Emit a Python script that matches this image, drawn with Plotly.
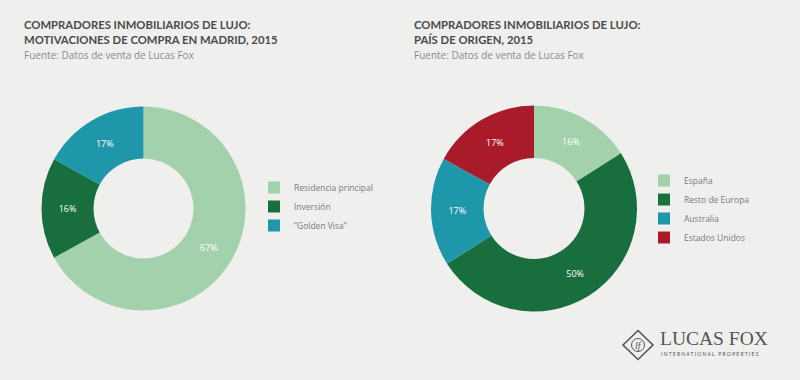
import plotly.graph_objects as go

W, H = 800, 380

# Data
left_labels = ["Residencia principal", "Inversión", "\u201cGolden Visa\u201d"]
left_values = [67, 16, 17]
right_labels = ["España", "Resto de Europa", "Australia", "Estados Unidos"]
right_values = [16, 50, 17, 17]

left_title = "COMPRADORES INMOBILIARIOS DE LUJO:<br>MOTIVACIONES DE COMPRA EN MADRID, 2015"
right_title = "COMPRADORES INMOBILIARIOS DE LUJO:<br>PAÍS DE ORIGEN, 2015"
source = "Fuente: Datos de venta de Lucas Fox"

LIGHT = "#a3d1ab"
DARK = "#186e3d"
TEAL = "#1f97aa"
RED = "#a91b2b"
BG = "#efefee"

FONT = "Lato, 'Open Sans', sans-serif"
FONT2 = "'Open Sans', Lato, sans-serif"


def px(x):
    return x / W


def py(y):
    return 1 - y / H


def domain(cx, cy, r):
    return dict(x=[px(cx - r), px(cx + r)], y=[py(cy + r), py(cy - r)])


fig = go.Figure()

fig.add_trace(go.Pie(
    labels=left_labels, values=left_values, sort=False, direction="clockwise",
    rotation=0, hole=0.49, domain=domain(143.5, 208.5, 102),
    marker=dict(colors=[LIGHT, DARK, TEAL], line=dict(width=0)),
    texttemplate="%{value}%", textposition="inside", insidetextorientation="horizontal",
    textfont=dict(color="white", size=9, family=FONT2),
    legend="legend", hoverinfo="label+percent",
))

fig.add_trace(go.Pie(
    labels=right_labels, values=right_values, sort=False, direction="clockwise",
    rotation=0, hole=0.49, domain=domain(534, 208.5, 103),
    marker=dict(colors=[LIGHT, DARK, TEAL, RED], line=dict(width=0)),
    texttemplate="%{value}%", textposition="inside", insidetextorientation="horizontal",
    textfont=dict(color="white", size=9, family=FONT2),
    legend="legend2", hoverinfo="label+percent",
))

legend_style = dict(
    font=dict(family=FONT2, size=8.5, color="#7a7a7a"),
    bgcolor="rgba(0,0,0,0)", itemclick=False, itemdoubleclick=False,
    xanchor="left", yanchor="top", tracegroupgap=0, itemwidth=30,
)

fig.update_layout(
    width=W, height=H,
    paper_bgcolor=BG, plot_bgcolor=BG,
    margin=dict(l=0, r=0, t=0, b=0),
    showlegend=True,
    legend=dict(x=px(254), y=py(173), **legend_style),
    legend2=dict(x=px(644), y=py(166), **legend_style),
    font=dict(family=FONT),
)

annotations = [
    dict(x=px(22), y=py(16), text="<b>" + left_title + "</b>", align="left",
         font=dict(size=11.3, color="#4a4a4a", family=FONT)),
    dict(x=px(22), y=py(46), text=source, align="left",
         font=dict(size=10, color="#8a8a8a", family=FONT2)),
    dict(x=px(412), y=py(16), text="<b>" + right_title + "</b>", align="left",
         font=dict(size=11.3, color="#4a4a4a", family=FONT)),
    dict(x=px(412), y=py(46), text=source, align="left",
         font=dict(size=10, color="#8a8a8a", family=FONT2)),
    # logo text
    dict(x=px(659), y=py(350), text="LUCAS FOX", align="left", yanchor="bottom",
         borderpad=0,
         font=dict(size=19.5, color="#555555", family="'Liberation Serif', serif")),
    dict(x=px(660), y=py(350), text="I N T E R N A T I O N A L   P R O P E R T I E S", align="left",
         borderpad=0, font=dict(size=5, color="#555555", family=FONT)),
    dict(x=px(638), y=py(345), text="<i>lf</i>", xanchor="center", yanchor="middle",
         font=dict(size=10, color="#555555", family="'Liberation Serif', serif")),
]
for a in annotations:
    a.setdefault("xanchor", "left")
    a.setdefault("yanchor", "top")
    a.update(xref="paper", yref="paper", showarrow=False)
fig.update_layout(annotations=annotations)


# logo diamond
def diamond(cx, cy, rx, ry):
    pts = [(cx - rx, cy), (cx, cy - ry), (cx + rx, cy), (cx, cy + ry)]
    return "M " + " L ".join(f"{px(x)},{py(y)}" for x, y in pts) + " Z"


fig.add_shape(type="path", path=diamond(638, 345, 15, 14.5), xref="paper", yref="paper",
              line=dict(color="#555555", width=1.6))
fig.add_shape(type="circle", xref="paper", yref="paper",
              x0=px(631.5), x1=px(644.5), y0=py(351.5), y1=py(338.5),
              line=dict(color="#555555", width=1))

fig.write_html("out.html", config={"displayModeBar": False},
               post_script="document.body.style.margin='0';")
